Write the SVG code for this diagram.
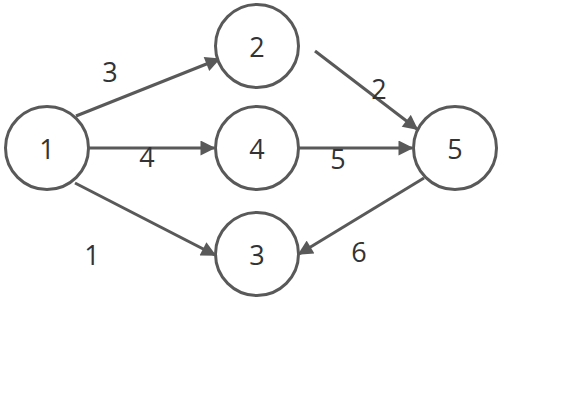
<svg xmlns="http://www.w3.org/2000/svg" width="582" height="409" viewBox="0 0 582 409">
<style>
.n{fill:#fff;stroke:#595959;stroke-width:3}
.t{font-family:"Open Sans","Noto Sans",sans-serif;font-size:27px;fill:#333;text-anchor:middle;dominant-baseline:central}
.e{stroke:#595959;stroke-width:3;fill:none;marker-end:url(#a)}
</style>
<defs>
<marker id="a" viewBox="0 0 10 10" refX="9" refY="5" markerWidth="5.5" markerHeight="5" orient="auto" markerUnits="strokeWidth">
<path d="M0,0 L10,5 L0,10 z" fill="#595959"/>
</marker>
</defs>
<rect width="582" height="409" fill="#fff"/>
<g id="connectors">
<line class="e" x1="76" y1="116" x2="219" y2="59"/>
<line class="e" x1="89" y1="148" x2="214" y2="148"/>
<line class="e" x1="75" y1="183" x2="215" y2="255"/>
<line class="e" x1="315" y1="51" x2="417" y2="129"/>
<line class="e" x1="299" y1="148" x2="412" y2="148"/>
<line class="e" x1="424" y1="178" x2="299" y2="254"/>
<text class="t" x="110" y="71">3</text>
<text class="t" x="147" y="156">4</text>
<text class="t" x="92" y="254">1</text>
<text class="t" x="379" y="88">2</text>
<text class="t" x="338" y="158">5</text>
<text class="t" x="359" y="251">6</text>
</g>
<g id="node1"><circle class="n" cx="47" cy="148" r="41.5"/><text class="t" x="47" y="148">1</text></g>
<g id="node2"><circle class="n" cx="257" cy="46" r="41.5"/><text class="t" x="257" y="46">2</text></g>
<g id="node4"><circle class="n" cx="257" cy="148" r="41.5"/><text class="t" x="257" y="148">4</text></g>
<g id="node3"><circle class="n" cx="257" cy="254" r="41.5"/><text class="t" x="257" y="254">3</text></g>
<g id="node5"><circle class="n" cx="455" cy="148" r="41.5"/><text class="t" x="455" y="148">5</text></g>
</svg>
